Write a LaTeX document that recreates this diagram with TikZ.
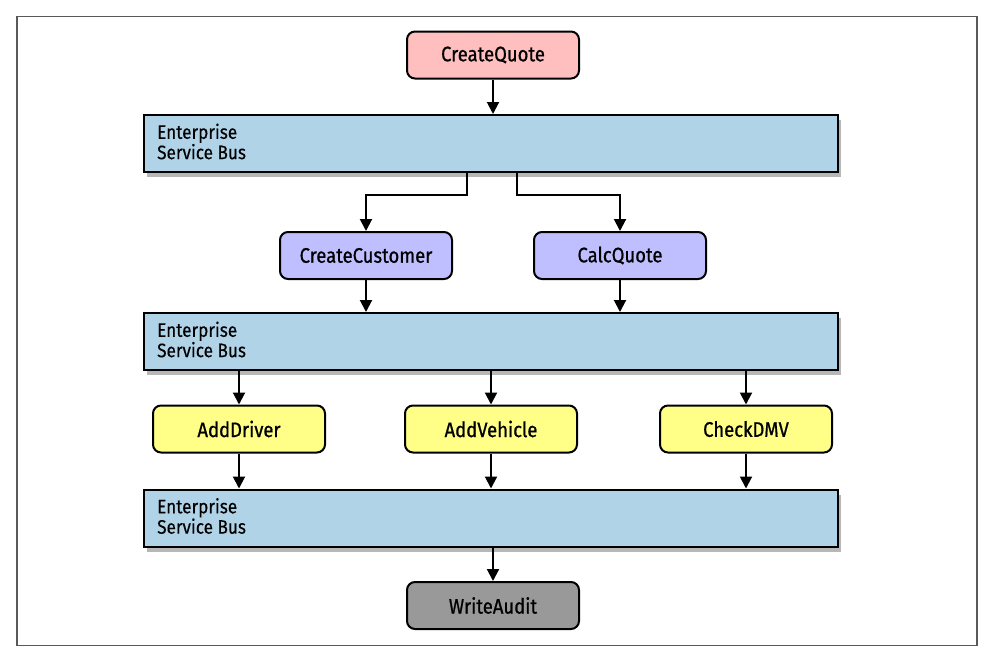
\documentclass[tikz,border=0pt]{standalone}
\usepackage{fontspec}
\setmainfont[FakeStretch=0.88, FakeBold=0.8]{Fira Sans}
\newfontfamily\busfont[FakeStretch=0.88, FakeBold=0.3]{Fira Sans}
\usetikzlibrary{arrows.meta,shadows}
\definecolor{quotepink}{HTML}{FFBFBF}
\definecolor{svcpurple}{HTML}{BFBFFF}
\definecolor{svcyellow}{HTML}{FFFF88}
\definecolor{svcgray}{HTML}{999999}
\definecolor{busblue}{HTML}{B0D3E8}
\tikzset{
  svc/.style={draw=black, line width=2pt, rounded corners=8pt, minimum width=172pt, minimum height=47pt, font=\fontsize{21}{22}\selectfont, inner sep=0pt},
  bus/.style={draw=black, line width=2pt, fill=busblue, minimum width=694pt, minimum height=57pt, inner sep=0pt,
    drop shadow={shadow xshift=3pt, shadow yshift=-5pt, opacity=0.4, fill=black!70}},
  bustext/.style={font=\busfont\fontsize{19.5}{18.5}\selectfont, align=left, anchor=west, inner sep=0pt},
  conn/.style={line width=2pt, -{Triangle[width=12pt,length=12pt]}}
}
\begin{document}
\begin{tikzpicture}[x=1pt,y=-1pt]
\useasboundingbox (0,0) rectangle (987,656);
\node[draw=black!65, line width=1.3pt, minimum width=960pt, minimum height=629pt, inner sep=0pt] (frame) at (497,331) {};
% buses
\node[bus] (bus1) at (491,143.5) {};
\node[bustext] (bus1t) at (157,141.5) {Enterprise\\Service Bus};
\node[bus] (bus2) at (491,341.5) {};
\node[bustext] (bus2t) at (157,339.5) {Enterprise\\Service Bus};
\node[bus] (bus3) at (491,518) {};
\node[bustext] (bus3t) at (157,516) {Enterprise\\Service Bus};
% services
\node[svc, fill=quotepink] (cq) at (493,55) {CreateQuote};
\node[svc, fill=svcpurple] (cc) at (366,255.5) {CreateCustomer};
\node[svc, fill=svcpurple] (calc) at (620,255.5) {CalcQuote};
\node[svc, fill=svcyellow] (ad) at (239,429) {AddDriver};
\node[svc, fill=svcyellow] (av) at (491,429) {AddVehicle};
\node[svc, fill=svcyellow] (dmv) at (746,429) {CheckDMV};
\node[svc, fill=svcgray] (wa) at (493,605.5) {WriteAudit};
% connectors
\draw[conn] (cq.south) -- (cq.south |- bus1.north);
\draw[conn] (bus1.south -| 467,0) |- (366,195) -- (cc.north);
\draw[conn] (bus1.south -| 517,0) |- (620,195) -- (calc.north);
\draw[conn] (cc.south) -- (cc.south |- bus2.north);
\draw[conn] (calc.south) -- (calc.south |- bus2.north);
\draw[conn] (bus2.south -| ad.north) -- (ad.north);
\draw[conn] (bus2.south -| av.north) -- (av.north);
\draw[conn] (bus2.south -| dmv.north) -- (dmv.north);
\draw[conn] (ad.south) -- (ad.south |- bus3.north);
\draw[conn] (av.south) -- (av.south |- bus3.north);
\draw[conn] (dmv.south) -- (dmv.south |- bus3.north);
\draw[conn] (bus3.south -| wa.north) -- (wa.north);
\end{tikzpicture}
\end{document}
